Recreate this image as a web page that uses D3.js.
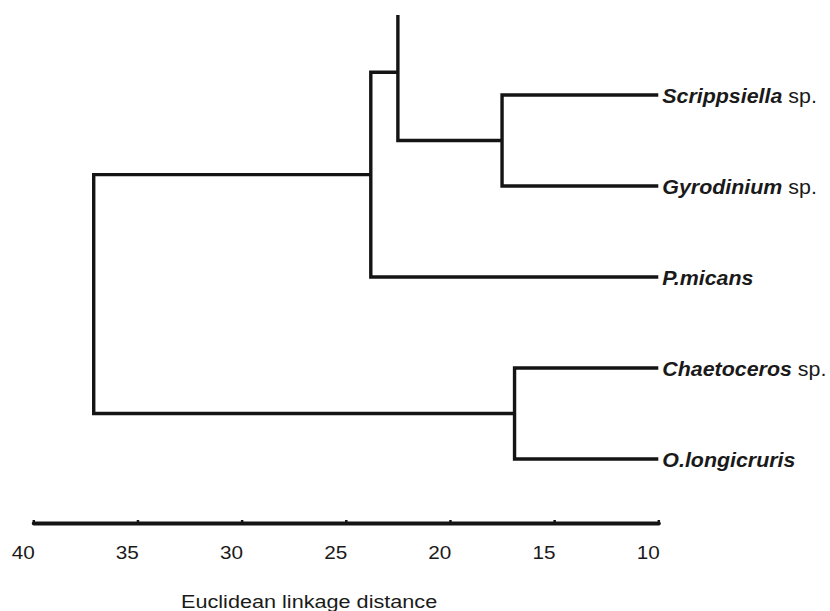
<!DOCTYPE html>
<html>
<head>
<meta charset="utf-8">
<script src="https://cdn.jsdelivr.net/npm/d3@7"></script>
<style>
  body { margin: 0; background: #fff; }
  svg { display: block; font-family: "Liberation Sans", Arial, sans-serif; }
</style>
</head>
<body>
<div id="chart"></div>
<script>
// Leaves, top to bottom ("cut" is the branch cropped off the top of the figure)
const leafIds = ["cut", "scr", "gyr", "pmi", "cha", "olo"];
const leafItalic = ["", "Scrippsiella", "Gyrodinium", "P.micans", "Chaetoceros", "O.longicruris"];
const leafPlain = ["", " sp.", " sp.", "", " sp.", ""];
const leafDist = 10;

// Merges: node n1..n5 joins mergeA + mergeB at mergeDist
const mergeA = ["scr", "cut", "n2", "cha", "n3"];
const mergeB = ["gyr", "n1", "pmi", "olo", "n4"];
const mergeDist = [17.5, 22.5, 23.8, 16.9, 37.1];

const tickValues = [40, 35, 30, 25, 20, 15, 10];
const axisTitle = "Euclidean linkage distance";

const W = 830, H = 611;
const axisY = 523;

const svg = d3.select("#chart")
    .append("svg")
    .attr("width", W)
    .attr("height", H);

svg.append("rect").attr("width", W).attr("height", H).attr("fill", "#fff");

const x = d3.scaleLinear()
    .domain([40, 10])
    .range([33.3, 658.3]);

const yLeaf = d3.scalePoint()
    .domain(leafIds)
    .range([4, 459]);

// positions of every node
const pos = {};
leafIds.forEach(id => { pos[id] = { x: x(leafDist), y: yLeaf(id) }; });
mergeA.forEach((a, i) => {
    const b = mergeB[i];
    pos["n" + (i + 1)] = { x: x(mergeDist[i]), y: (pos[a].y + pos[b].y) / 2 };
});

// clip top so the cropped branch is cut like in the figure
svg.append("clipPath").attr("id", "clip")
    .append("rect").attr("x", 0).attr("y", 15).attr("width", W).attr("height", H);

const tree = svg.append("g").attr("clip-path", "url(#clip)");

tree.selectAll("path.link")
    .data(mergeA.map((a, i) => ({ a: a, b: mergeB[i], d: mergeDist[i] })))
    .enter()
    .append("path")
    .attr("class", "link")
    .attr("fill", "none")
    .attr("stroke", "#141414")
    .attr("stroke-width", 3.4)
    .attr("stroke-linejoin", "miter")
    .attr("d", m => {
        const A = pos[m.a], B = pos[m.b], nx = x(m.d);
        return `M${A.x},${A.y}H${nx}V${B.y}H${B.x}`;
    });

// leaf labels
const labels = svg.selectAll("text.leaf")
    .data(leafIds.filter(id => id !== "cut"))
    .enter()
    .append("text")
    .attr("class", "leaf")
    .attr("transform", id => `translate(${x(leafDist) + 4},${pos[id].y + 7.5}) scale(1.07,1)`)
    .attr("font-size", 20)
    .attr("fill", "#1a1a1a");

labels.append("tspan")
    .attr("font-weight", "bold")
    .attr("font-style", "italic")
    .text(id => leafItalic[leafIds.indexOf(id)]);

labels.append("tspan")
    .attr("xml:space", "preserve")
    .style("white-space", "pre")
    .text(id => leafPlain[leafIds.indexOf(id)]);

// axis
const xAxis = d3.axisBottom(x)
    .tickValues(tickValues)
    .tickSizeInner(-3)
    .tickSizeOuter(0)
    .tickPadding(0)
    .tickFormat(d3.format("d"));

const axisG = svg.append("g")
    .attr("transform", `translate(0,${axisY})`)
    .call(xAxis);

axisG.select(".domain")
    .attr("stroke", "#141414")
    .attr("stroke-width", 4)
    .attr("stroke-linecap", "round");

axisG.selectAll(".tick line")
    .attr("stroke", "#141414")
    .attr("stroke-width", 2.5);

axisG.selectAll(".tick text")
    .attr("transform", "scale(1.12,1)")
    .attr("y", 36)
    .attr("dy", 0)
    .attr("x", -9.5)
    .attr("font-size", 18.5)
    .attr("font-family", "\"Liberation Sans\", Arial, sans-serif")
    .attr("fill", "#1a1a1a");

svg.append("text")
    .attr("transform", "translate(181,608) scale(1.17,1)")
    .attr("font-size", 18.5)
    .attr("fill", "#1a1a1a")
    .text(axisTitle);
</script>
</body>
</html>
